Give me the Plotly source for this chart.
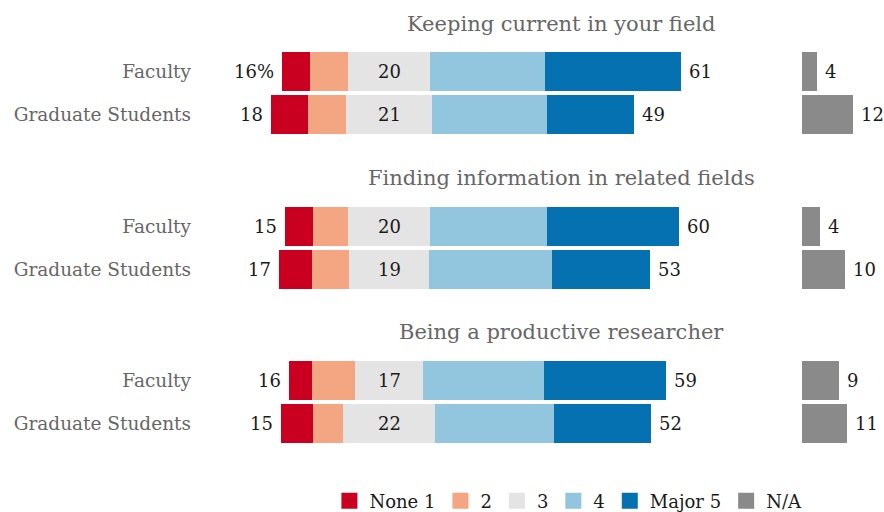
import plotly.graph_objects as go

W, H = 884, 512

sections = ["Keeping current in your field",
            "Finding information in related fields",
            "Being a productive researcher"]
groups = ["Faculty", "Graduate Students"]

# segment shares (%) per section, [Faculty, Graduate Students]
none1 = [[6.8, 9.0], [6.9, 8.0], [5.6, 7.8]]
two = [[9.2, 9.2], [8.4, 9.0], [10.4, 7.3]]
three = [[19.9, 20.8], [19.9, 19.4], [16.5, 22.3]]
four = [[27.9, 27.9], [28.4, 29.8], [29.3, 28.8]]
major5 = [[33.0, 21.1], [31.9, 23.8], [29.6, 23.5]]
na = [[3.6, 12.4], [4.4, 10.4], [9.0, 10.9]]

# printed labels
left_lbl = [["16%", "18"], ["15", "17"], ["16", "15"]]
mid_lbl = [["20", "21"], ["20", "19"], ["17", "22"]]
right_lbl = [["61", "49"], ["60", "53"], ["59", "52"]]
na_lbl = [["4", "12"], ["4", "10"], ["9", "11"]]

legend_names = ["None 1", "2", "3", "4", "Major 5", "N/A"]
colors = ["#ca0020", "#f4a582", "#e4e4e4", "#92c5de", "#0571b0", "#8a8a8a"]

FONT = "DejaVu Serif"
NUM_SIZE = 18
LBL_COLOR = "#1a1a1a"
GREY_TXT = "#666666"

PX = 4.125          # pixels per percent
ZERO = 389          # pixel x of zero
MAIN_L, MAIN_R = 200, 770
NA_L, NA_R = 802, 884
sec_top = [50, 205, 359]
SEC_H = 86
title_y = [24, 178, 332]

fig = go.Figure()
layout = dict(
    width=W, height=H, margin=dict(l=0, r=0, t=0, b=0, autoexpand=False),
    paper_bgcolor="white", plot_bgcolor="white",
    barmode="overlay", showlegend=True, bargap=0,
    font=dict(family=FONT, size=NUM_SIZE, color=LBL_COLOR),
    legend=dict(orientation="h", x=0.643, xanchor="center",
                xref="container", yref="container",
                y=1 - 501 / H, yanchor="middle",
                font=dict(family=FONT, size=18, color=LBL_COLOR), itemwidth=30,
                tracegroupgap=0, bgcolor="rgba(0,0,0,0)"),
)
annotations = []
bw = 39 / 43

for s in range(3):
    xm = "x" if s == 0 else f"x{2*s+1}"
    ym = "y" if s == 0 else f"y{2*s+1}"
    xn = f"x{2*s+2}"
    yn = f"y{2*s+2}"
    dom_y = [1 - (sec_top[s] + SEC_H) / H, 1 - sec_top[s] / H]
    a = lambda k: k[1:] if len(k) > 1 else ""
    layout["xaxis" + a(xm)] = dict(domain=[MAIN_L / W, MAIN_R / W],
                                   range=[(MAIN_L - ZERO) / PX, (MAIN_R - ZERO) / PX],
                                   visible=False, anchor=ym, fixedrange=True)
    layout["yaxis" + a(ym)] = dict(domain=dom_y, anchor=xm, type="category",
                                   categoryorder="array", categoryarray=groups,
                                   range=[1.5, -0.5], showgrid=False, zeroline=False,
                                   showline=False, ticks="", ticklabelstandoff=8,
                                   automargin=False,
                                   tickfont=dict(family=FONT, size=18.5, color=GREY_TXT))
    layout["xaxis" + a(xn)] = dict(domain=[NA_L / W, NA_R / W],
                                   range=[0, (NA_R - NA_L) / PX],
                                   visible=False, anchor=yn)
    layout["yaxis" + a(yn)] = dict(domain=dom_y, anchor=xn, type="category",
                                   categoryorder="array", categoryarray=groups,
                                   range=[1.5, -0.5], visible=False)

    v1, v2, v3, v4, v5 = none1[s], two[s], three[s], four[s], major5[s]
    bases = [
        [-(v3[i] / 2 + v2[i] + v1[i]) for i in range(2)],
        [-(v3[i] / 2 + v2[i]) for i in range(2)],
        [-v3[i] / 2 for i in range(2)],
        [v3[i] / 2 for i in range(2)],
        [v3[i] / 2 + v4[i] for i in range(2)],
    ]
    vals = [v1, v2, v3, v4, v5]
    for k in range(5):
        fig.add_trace(go.Bar(
            y=groups, x=vals[k], base=bases[k], orientation="h", width=bw,
            marker=dict(color=colors[k], line=dict(width=0)),
            xaxis=xm, yaxis=ym, showlegend=False, hoverinfo="skip"))
    fig.add_trace(go.Bar(
        y=groups, x=na[s], base=[0, 0], orientation="h", width=bw,
        marker=dict(color=colors[5], line=dict(width=0)),
        xaxis=xn, yaxis=yn, showlegend=False, hoverinfo="skip"))

    for i in range(2):
        annotations.append(dict(x=bases[0][i], y=groups[i], xref=xm, yref=ym,
                                text=left_lbl[s][i], showarrow=False, xanchor="right",
                                xshift=-6, font=dict(size=NUM_SIZE, color=LBL_COLOR)))
        annotations.append(dict(x=0, y=groups[i], xref=xm, yref=ym,
                                text=mid_lbl[s][i], showarrow=False, xanchor="center",
                                font=dict(size=NUM_SIZE, color=LBL_COLOR)))
        annotations.append(dict(x=bases[4][i] + v5[i], y=groups[i], xref=xm, yref=ym,
                                text=right_lbl[s][i], showarrow=False, xanchor="left",
                                xshift=6, font=dict(size=NUM_SIZE, color=LBL_COLOR)))
        annotations.append(dict(x=na[s][i], y=groups[i], xref=xn, yref=yn,
                                text=na_lbl[s][i], showarrow=False, xanchor="left",
                                xshift=6, font=dict(size=NUM_SIZE, color=LBL_COLOR)))
    annotations.append(dict(x=561 / W, y=1 - title_y[s] / H, xref="paper", yref="paper",
                            text=sections[s], showarrow=False, xanchor="center",
                            yanchor="middle", font=dict(size=21, color=GREY_TXT)))

# legend entries
for name, c in zip(legend_names, colors):
    fig.add_trace(go.Scatter(x=[None], y=[None], mode="markers", name=name,
                             marker=dict(symbol="square", size=16, color=c),
                             xaxis="x", yaxis="y", hoverinfo="skip"))

layout["annotations"] = annotations
fig.update_layout(**layout)
fig.write_html("out.html")
